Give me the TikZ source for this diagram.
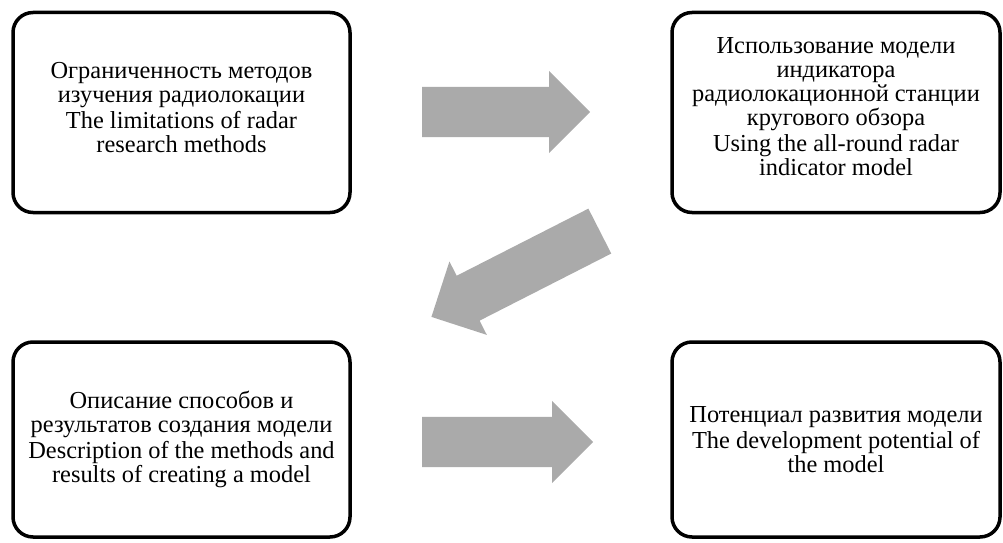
\documentclass[tikz,border=0pt]{standalone}
\usepackage{fontspec}
\setmainfont{Liberation Serif}
\usetikzlibrary{shapes.arrows}
\definecolor{arrowgray}{HTML}{AAAAAA}

\begin{document}
\begin{tikzpicture}[x=1pt, y=1pt,
    stage/.style={draw=black, line width=3.5pt, rounded corners=20pt,
        minimum width=337pt, minimum height=200pt, inner sep=0pt,
        align=center, font=\fontsize{24.4}{24}\selectfont},
    flow/.style={single arrow, fill=arrowgray, draw=none, anchor=tail,
        inner xsep=0pt, inner ysep=25pt, single arrow head extend=16pt,
        single arrow head indent=0pt}]
    \useasboundingbox (0,0) rectangle (1003,542);

    % top row
    \node[stage, text depth=11pt] (limits) at (181.5,429.5)
        {Ограниченность методов\\ изучения радиолокации\\[2pt]
         The limitations of radar\\ research methods};
    \node[stage, text depth=12pt, minimum width=328pt] (model) at (836,429.5)
        {Использование модели\\ индикатора\\ радиолокационной станции\\ кругового обзора\\[2pt]
         Using the all-round radar\\ indicator model};

    % bottom row
    \node[stage, minimum height=195pt] (methods) at (181.5,102.5)
        {Описание способов и\\ результатов создания модели\\[2pt]
         Description of the methods and\\ results of creating a model};
    \node[stage, minimum width=328pt, minimum height=195pt] (potential) at (836,102.5)
        {Потенциал развития модели\\[2pt]
         The development potential of\\ the model};

    % block arrows
    \node[flow, minimum height=168pt] (arrowA) at (422,430) {};
    \node[flow, minimum height=189pt, rotate=207] (arrowB) at (600,311) {};
    \node[flow, minimum height=171pt] (arrowC) at (422,100) {};
\end{tikzpicture}
\end{document}
